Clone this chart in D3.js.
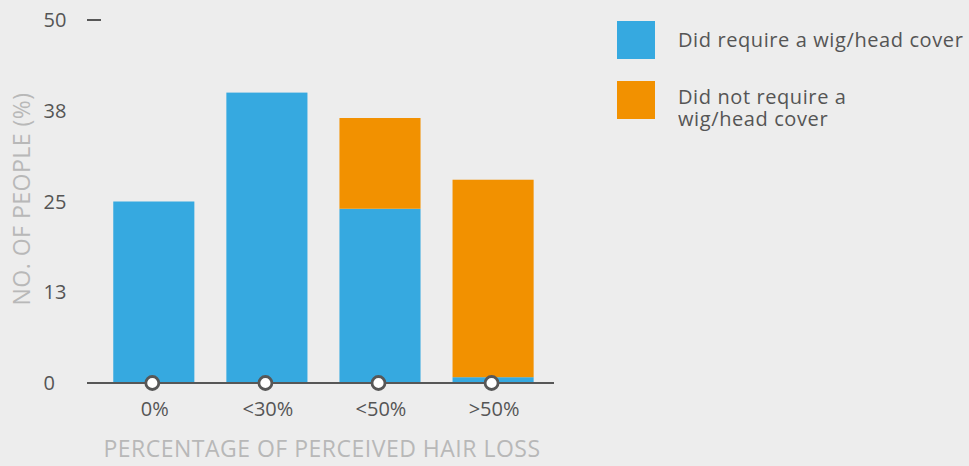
<!DOCTYPE html>
<html><head><meta charset="utf-8">
<script src="https://cdn.jsdelivr.net/npm/d3@7"></script>
<style>
html,body{margin:0;padding:0;background:#ededed;}
svg{display:block;font-family:"Open Sans",sans-serif;}
.lg{font-family:"Open Sans",sans-serif;font-size:20px;line-height:22px;color:#555;letter-spacing:0.6px;margin:0;}
</style></head>
<body>
<svg id="c" width="969" height="466"></svg>
<script>
const categories = ["0%", "<30%", "<50%", ">50%"];
const requiredValues = [25, 40, 24, 0.8];
const notRequiredValues = [0, 0, 12.5, 27.2];
const seriesNames = ["Did require a wig/head cover", "Did not require a wig/head cover"];
const yTickValues = [0, 12.5, 25, 37.5, 50];
const yTickLabels = ["0", "13", "25", "38", "50"];
const xTitle = "PERCENTAGE OF PERCEIVED HAIR LOSS";
const yTitle = "NO. OF PEOPLE (%)";

const colors = ["#36a9e0", "#f29100"];
const svg = d3.select("#c");

const x = d3.scaleBand().domain(categories).range([99.7, 547.2]).paddingInner(0.283).paddingOuter(0.12);
const y = d3.scaleLinear().domain([0, 50]).range([383, 20]);

const rows = categories.map((c, i) => ({cat: c, req: requiredValues[i], notreq: notRequiredValues[i]}));
const stack = d3.stack().keys(["req", "notreq"])(rows);

svg.append("g").selectAll("g").data(stack).join("g")
  .attr("fill", (d, i) => colors[i])
  .selectAll("rect").data(d => d).join("rect")
  .attr("x", d => x(d.data.cat))
  .attr("width", x.bandwidth())
  .attr("y", d => y(d[1]))
  .attr("height", d => y(d[0]) - y(d[1]));

// baseline axis
svg.append("line").attr("x1", 87).attr("x2", 554).attr("y1", y(0)).attr("y2", y(0))
  .attr("stroke", "#575757").attr("stroke-width", 2.2);
// top tick dash
svg.append("line").attr("x1", 87).attr("x2", 101).attr("y1", y(50)).attr("y2", y(50))
  .attr("stroke", "#575757").attr("stroke-width", 2);

// y labels
svg.append("g").selectAll("text").data(yTickValues).join("text")
  .attr("x", 43.5).attr("y", d => y(d)).attr("dy", "0.35em")
  .attr("fill", "#555").attr("font-size", 20)
  .text((d, i) => yTickLabels[i]);

// markers
svg.append("g").selectAll("circle").data(categories).join("circle")
  .attr("cx", d => x(d) + x.bandwidth() / 2 - 1.5).attr("cy", y(0))
  .attr("r", 6.5).attr("fill", "#fff").attr("stroke", "#575757").attr("stroke-width", 2.8);

// x labels
svg.append("g").selectAll("text").data(categories).join("text")
  .attr("x", d => x(d) + x.bandwidth() / 2 + 1).attr("y", 409).attr("dy", "0.35em")
  .attr("text-anchor", "middle").attr("fill", "#555").attr("font-size", 20)
  .text(d => d);

// axis titles
svg.append("text").attr("x", 322).attr("y", 449).attr("dy", "0.35em")
  .attr("text-anchor", "middle").attr("fill", "#b8b8b8").attr("font-size", 23).attr("letter-spacing", 0.5)
  .text(xTitle);
svg.append("text").attr("transform", "translate(22,199) rotate(-90)").attr("dy", "0.35em")
  .attr("text-anchor", "middle").attr("fill", "#b8b8b8").attr("font-size", 23).attr("letter-spacing", 0.5)
  .text(yTitle);

// legend
const legend = svg.append("g");
const legendTop = [21, 81];
seriesNames.forEach((name, i) => {
  legend.append("rect").attr("x", 617).attr("y", legendTop[i]).attr("width", 38).attr("height", 38).attr("fill", colors[i]);
});
legend.append("text").attr("x", 678).attr("y", 40).attr("dy", "0.35em")
  .attr("fill", "#555").attr("font-size", 20).attr("letter-spacing", 0.6).text(seriesNames[0]);
legend.append("foreignObject").attr("x", 678).attr("y", 86).attr("width", 200).attr("height", 50)
  .append("xhtml:div").attr("class", "lg").text(seriesNames[1]);
</script>
</body></html>
